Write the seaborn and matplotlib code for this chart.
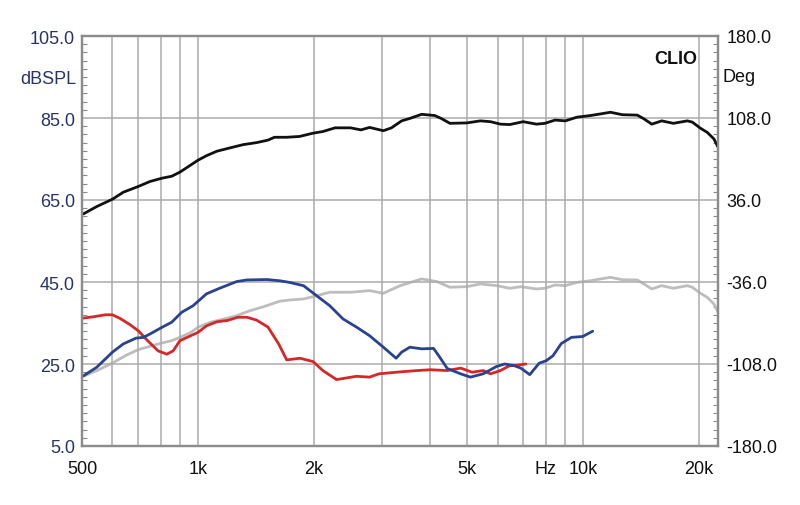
import numpy as np
import pandas as pd
import matplotlib
matplotlib.use("Agg")
import matplotlib.pyplot as plt
import seaborn as sns
from matplotlib.ticker import NullFormatter, FixedLocator

# ---------------- data ----------------
black_f = [504, 546, 600, 640, 700, 750, 805, 855, 898, 953, 1000, 1052, 1120, 1210, 1310,
           1420, 1520, 1580, 1700, 1836, 1990, 2110, 2270, 2490, 2650, 2790, 3030, 3180,
           3380, 3550, 3810, 4120, 4280, 4510, 4990, 5410, 5750, 6100, 6450, 6990, 7570,
           7960, 8460, 8990, 9640, 10450, 11100, 11780, 12640, 13830, 14380, 15080, 16000,
           17150, 18650, 19210, 20170, 21000, 21860, 22400]
black_db = [61.6, 63.4, 65.2, 66.9, 68.3, 69.5, 70.3, 70.8, 71.8, 73.4, 74.7, 75.8, 76.9, 77.7,
            78.5, 79.0, 79.6, 80.3, 80.3, 80.5, 81.3, 81.7, 82.6, 82.6, 82.1, 82.7, 81.9, 82.6,
            84.3, 84.9, 85.9, 85.6, 84.9, 83.7, 83.8, 84.3, 84.1, 83.5, 83.4, 84.1, 83.5, 83.7,
            84.5, 84.3, 85.2, 85.6, 86.0, 86.4, 85.8, 85.7, 84.8, 83.5, 84.3, 83.7, 84.3, 84.0,
            82.5, 81.5, 79.9, 77.9]

gray_f = [504, 546, 600, 653, 700, 750, 805, 855, 898, 953, 1000, 1075, 1166, 1260, 1365,
          1480, 1630, 1730, 1880, 1990, 2200, 2490, 2790, 3030, 3350, 3810, 4180, 4510, 4990,
          5410, 5960, 6450, 6890, 7570, 7960, 8460, 8990, 9640, 10450, 11100, 11780, 12640,
          13830, 14380, 15080, 16000, 17150, 18650, 19210, 20170, 21000, 21860, 22400]
gray_deg = [-118.8, -113.9, -107.1, -100.1, -95.4, -92.5, -89.6, -87.5, -84.6, -80.8, -75.8,
            -71.4, -68.5, -65.6, -61.2, -57.7, -52.9, -51.8, -50.9, -48.9, -45.0, -45.0, -43.6,
            -45.9, -39.2, -33.3, -35.7, -40.6, -40.1, -37.7, -39.2, -41.5, -40.1, -42.1, -41.5,
            -38.6, -39.2, -36.3, -34.9, -33.3, -31.9, -34.0, -34.2, -37.7, -42.1, -39.2, -41.5,
            -39.2, -40.6, -45.9, -49.4, -55.3, -62.6]

blue_f = [504, 546, 600, 640, 690, 722, 750, 805, 855, 907, 971, 1052, 1140, 1260, 1340, 1510,
          1630, 1730, 1880, 2030, 2200, 2380, 2580, 2790, 3030, 3270, 3380, 3550, 3810, 4090,
          4220, 4440, 4810, 5100, 5500, 5960, 6260, 6620, 6890, 7270, 7690, 8020, 8350, 8780,
          9330, 9970, 10590]
blue_db = [22.1, 24.2, 27.9, 29.9, 31.3, 31.5, 32.3, 33.9, 35.2, 37.6, 39.2, 42.1, 43.5, 45.1,
           45.5, 45.6, 45.3, 44.9, 44.1, 41.7, 39.2, 36.0, 34.0, 31.9, 29.1, 26.4, 27.9, 29.1,
           28.7, 28.8, 27.0, 23.9, 22.6, 21.8, 22.6, 24.4, 25.0, 24.6, 24.0, 22.4, 25.2, 25.8,
           27.0, 30.0, 31.5, 31.7, 33.0]

red_f = [504, 534, 574, 600, 628, 666, 700, 740, 788, 830, 862, 898, 953, 1000, 1052, 1120,
         1190, 1270, 1340, 1420, 1520, 1620, 1700, 1840, 1990, 2110, 2290, 2580, 2790, 2950,
         3280, 3700, 4020, 4440, 4810, 5150, 5500, 5750, 6100, 6450, 6620, 7100]
red_db = [36.2, 36.5, 37.0, 37.0, 36.1, 34.6, 33.1, 30.7, 28.2, 27.4, 28.2, 30.7, 31.8, 32.7,
          34.3, 35.3, 35.6, 36.4, 36.4, 35.7, 34.0, 29.9, 26.0, 26.4, 25.6, 23.4, 21.2, 22.0,
          21.8, 22.6, 23.0, 23.4, 23.6, 23.4, 24.0, 23.0, 23.4, 22.6, 23.4, 24.6, 24.6, 25.0]

x_tick_pos = [500, 1000, 2000, 5000, 8000, 10000, 20000]
x_tick_labels = ["500", "1k", "2k", "5k", "Hz", "10k", "20k"]
x_grid_minor = [600, 700, 800, 900, 3000, 4000, 6000, 7000, 9000]
left_ticks = [5, 25, 45, 65, 85, 105]
right_ticks = [-180, -108, -36, 36, 108, 180]

# ---------------- style ----------------
sns.set_theme(style="white")
plt.rcParams["font.family"] = ["Liberation Sans", "DejaVu Sans"]

navy = "#27336b"
c_black = "#111111"
c_gray = "#bdbdbd"
c_blue = "#2a4290"
c_red = "#d42828"
spine_c = "#8c8c8c"
grid_c = "#ababab"
fs = 13

fig = plt.figure(figsize=(8.0, 5.06), dpi=100)
ax = fig.add_axes([82 / 800, 1 - 447 / 506, (718 - 82) / 800, (447 - 37) / 506])
ax2 = ax.twinx()
ax.set_zorder(ax2.get_zorder() + 1)
ax.patch.set_visible(False)

lw = 2.0
kw = dict(linewidth=lw, solid_joinstyle="round", solid_capstyle="round")
sns.lineplot(x=gray_f, y=gray_deg, ax=ax2, color=c_gray, **kw)
sns.lineplot(x=black_f, y=black_db, ax=ax, color=c_black, **kw)
sns.lineplot(x=red_f, y=red_db, ax=ax, color=c_red, **kw)
sns.lineplot(x=blue_f, y=blue_db, ax=ax, color=c_blue, **kw)

for a in (ax, ax2):
    a.set_xscale("log")
    a.set_xlim(500, 22400)
ax.set_ylim(5, 105)
ax2.set_ylim(-180, 180)

# x ticks / grid
ax.xaxis.set_major_locator(FixedLocator(x_tick_pos))
ax.set_xticklabels(x_tick_labels)
ax.xaxis.set_minor_locator(FixedLocator(x_grid_minor))
ax.xaxis.set_minor_formatter(NullFormatter())
ax.tick_params(axis="x", which="both", length=0, pad=10, labelsize=fs, labelcolor="#111111")
ax.grid(True, axis="x", which="both", color=grid_c, linewidth=1.1)
ax.grid(True, axis="y", which="major", color=grid_c, linewidth=1.1)

# left y
ax.set_yticks(left_ticks)
ax.set_yticklabels([f"{v:.1f}" for v in left_ticks])
ax.yaxis.set_minor_locator(FixedLocator(np.arange(5, 106, 2)))
ax.tick_params(axis="y", which="major", length=0, pad=5, labelsize=fs, labelcolor=navy)
ax.tick_params(axis="y", which="minor", direction="in", length=3.5, width=0.8,
               color=spine_c, left=True)

# right y
ax2.set_yticks(right_ticks)
ax2.set_yticklabels([f"{v:.1f}" for v in right_ticks])
ax2.yaxis.set_minor_locator(FixedLocator(np.arange(-180, 181, 7.2)))
ax2.tick_params(axis="y", which="major", length=0, pad=6, labelsize=fs, labelcolor="#111111")
ax2.tick_params(axis="y", which="minor", direction="in", length=3.5, width=0.8,
                color=spine_c, right=True)
ax2.grid(False)
ax2.xaxis.set_minor_formatter(NullFormatter())
ax2.tick_params(axis="x", which="both", length=0)

for a in (ax, ax2):
    for s in a.spines.values():
        s.set_color(spine_c)
        s.set_linewidth(1.6)
    a.set_xlabel("")
    a.set_ylabel("")

# annotations
fig.text(76 / 800, 1 - 79 / 506, "dBSPL", ha="right", va="center", fontsize=fs, color=navy)
fig.text(723 / 800, 1 - 78 / 506, "Deg", ha="left", va="center", fontsize=fs, color="#111111")
ax.text(0.968, 0.965, "CLIO", transform=ax.transAxes, ha="right", va="top",
        fontsize=fs, fontweight="bold", color="#111111")

fig.savefig("out.png", dpi=100)
